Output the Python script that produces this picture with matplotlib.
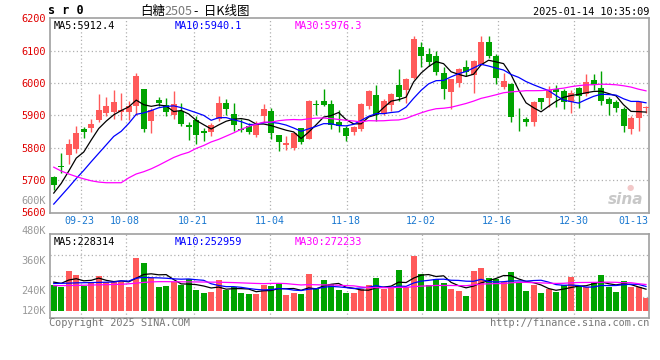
import numpy as np
import pandas as pd
import matplotlib
matplotlib.use('Agg')
import matplotlib.pyplot as plt

# sr0 (白糖2505) daily candles, 2024-09-13 .. 2025-01-14
opens = [5709, 5744, 5777, 5795, 5857, 5860, 5885, 5908, 5912, 5909,
         5912, 5930, 5982, 5882, 5948, 5932, 5902, 5915, 5871, 5887,
         5853, 5850, 5888, 5937, 5904, 5857, 5868, 5838, 5899, 5914,
         5838, 5809, 5800, 5861, 5828, 5934, 5945, 5934, 5880, 5860,
         5850, 5858, 5929, 5962, 5904, 5932, 5993, 5978, 6016, 6111,
         6091, 6084, 6031, 5972, 6001, 6049, 6026, 6057, 6128, 6082,
         5989, 5997, 5896, 5889, 5881, 5953, 5955, 5981, 5975, 5942,
         5984, 5966, 6009, 5986, 5950, 5942, 5919, 5858, 5891, 5924]
closes = [5686, 5740, 5813, 5845, 5850, 5872, 5917, 5928, 5942, 5916,
          5928, 6022, 5857, 5917, 5937, 5912, 5936, 5874, 5863, 5838,
          5845, 5870, 5937, 5920, 5869, 5855, 5849, 5873, 5921, 5845,
          5818, 5814, 5847, 5818, 5945, 5931, 5933, 5870, 5866, 5835,
          5865, 5934, 5975, 5901, 5945, 5965, 5957, 6014, 6136, 6082,
          6065, 6033, 5983, 6011, 6042, 6033, 6067, 6128, 6082, 6017,
          6006, 5896, 5894, 5881, 5942, 5942, 5980, 5973, 5942, 5970,
          5960, 6004, 5994, 5946, 5934, 5924, 5867, 5891, 5942, 5927]
highs = [5714, 5784, 5826, 5866, 5865, 5888, 5965, 5957, 5978, 5968,
         5946, 6030, 5983, 5922, 5957, 5955, 5974, 5937, 5881, 5897,
         5861, 5878, 5960, 5950, 5938, 5890, 5878, 5883, 5934, 5922,
         5840, 5836, 5850, 5862, 5948, 5947, 5983, 5948, 5916, 5868,
         5868, 5938, 5977, 5993, 5950, 5968, 6042, 6016, 6146, 6128,
         6108, 6098, 6050, 6014, 6047, 6072, 6072, 6146, 6146, 6090,
         6032, 5999, 5922, 5896, 5944, 5954, 5991, 5994, 5983, 5978,
         5989, 6028, 6028, 6038, 5958, 5947, 5925, 5898, 5945, 5929]
lows = [5668, 5722, 5750, 5785, 5830, 5850, 5880, 5897, 5890, 5886,
        5885, 5902, 5850, 5845, 5928, 5898, 5890, 5868, 5824, 5811,
        5822, 5835, 5884, 5902, 5853, 5848, 5843, 5833, 5881, 5828,
        5790, 5792, 5792, 5812, 5827, 5901, 5929, 5858, 5850, 5820,
        5840, 5853, 5921, 5884, 5901, 5914, 5945, 5938, 6011, 6050,
        6052, 6026, 5952, 5920, 5989, 6021, 5970, 6055, 6077, 5997,
        5981, 5881, 5853, 5867, 5867, 5919, 5927, 5927, 5920, 5906,
        5922, 5960, 5980, 5932, 5901, 5911, 5850, 5842, 5853, 5908]
# volume in thousand lots
volumes = [272, 248, 426, 374, 265, 297, 367, 307, 307, 300,
           248, 562, 503, 342, 248, 258, 300, 272, 332, 220,
           185, 195, 321, 220, 248, 185, 175, 178, 272, 258,
           290, 168, 189, 175, 388, 237, 321, 279, 220, 185,
           185, 227, 269, 342, 227, 237, 436, 251, 576, 384,
           269, 332, 290, 227, 209, 154, 426, 457, 342, 332,
           307, 415, 290, 206, 269, 185, 227, 195, 269, 353,
           258, 248, 300, 374, 251, 195, 311, 251, 251, 133]

# moving-average values at the left edge, where the window reaches
# back before the first candle shown
ma5_head = [5660, 5690, 5728, 5768]
ma10_head = [5626, 5652, 5678, 5705, 5730, 5757, 5783, 5809, 5835]
ma30_head = [5740, 5728, 5719, 5711, 5704, 5698, 5694, 5692, 5692, 5692,
             5707, 5719, 5726, 5735, 5746, 5758, 5770, 5779, 5786, 5798,
             5807, 5818, 5826, 5836, 5846, 5857, 5866, 5873, 5879]
vma5_head = [303, 290, 325, 339]
vma10_head = [288, 290, 292, 295, 297, 298, 300, 302, 304]
vma30_head = [265, 266, 267, 268, 270, 272, 274, 276, 278, 280,
              285, 292, 300, 305, 308, 308, 307, 306, 305, 305,
              304, 303, 302, 300, 298, 295, 292, 289, 287]

date_labels = ['09-23', '10-08', '10-21', '11-04', '11-18',
               '12-02', '12-16', '12-30', '01-13']
price_ticks = [5600, 5700, 5800, 5900, 6000, 6100, 6200]


def with_head(values, n, head):
    ma = pd.Series(values, dtype=float).rolling(n).mean().to_numpy()
    ma[:len(head)] = head
    return ma


RED = '#ff5a5a'
GREEN = '#00a300'
GRID = '#b0b0b0'
MONO = 'DejaVu Sans Mono'
CJK = ['Noto Sans CJK SC', 'DejaVu Sans']

W, H = 660, 360
fig = plt.figure(figsize=(6.6, 3.6), dpi=100)
fig.patch.set_facecolor('white')


def px(x, y):
    return x / W, 1 - y / H


ax = fig.add_axes([50 / W, 1 - 212.5 / H, 599 / W, 194.2 / H])
axv = fig.add_axes([50 / W, 1 - 318.3 / H, 599 / W, 84 / H])

o = np.array(opens)
c = np.array(closes)
hi = np.array(highs)
lo = np.array(lows)
v = np.array(volumes) * 1000
x = np.arange(len(o))
up = c >= o
cols = np.where(up, RED, GREEN)

# grid lines at the date positions (in candle units) and price levels
grid_x = [3.6, 9.6, 18.7, 28.9, 39.1, 49.1, 59.3, 69.4]
label_x = [3.45, 9.45, 18.6, 28.75, 38.9, 49.0, 59.15, 69.3, 77.3]
for a in (ax, axv):
    for gx in grid_x:
        a.axvline(gx, color=GRID, lw=0.9, ls=(0, (1, 2)), zorder=0)
for p in price_ticks[1:-1]:
    ax.axhline(p, color=GRID, lw=0.9, ls=(0, (1, 2)), zorder=0)

# candles
ax.vlines(x, lo, hi, colors=cols, lw=1, zorder=2)
body_h = np.maximum(np.abs(c - o), 1.5)
ax.bar(x, body_h, bottom=np.minimum(o, c), width=0.8, color=cols,
       linewidth=0, zorder=3)

ax.plot(x, with_head(closes, 5, ma5_head), color='black', lw=0.9, zorder=4)
ax.plot(x, with_head(closes, 10, ma10_head), color='#0000ff', lw=0.9, zorder=4)
ax.plot(x, with_head(closes, 30, ma30_head), color='#ff00ff', lw=0.9, zorder=4)

ax.set_xlim(-0.5, 79.4)
ax.set_ylim(5600, 6200)
ax.set_yticks(price_ticks)
ax.set_yticklabels([str(p) for p in price_ticks], color='#e00000',
                   family=MONO, fontsize=7.4)
ax.set_xticks(label_x)
ax.set_xticklabels(date_labels, color='#1a78d0', family=MONO, fontsize=7.2)
ax.tick_params(length=0, pad=2.5)
ax.tick_params(axis='y', pad=3)

# volume panel
vlo, vhi = -80600, 810000
axv.bar(x, v, width=0.8, color=cols, linewidth=0, zorder=2)
axv.plot(x, with_head(volumes, 5, vma5_head) * 1000, color='black', lw=0.9, zorder=3)
axv.plot(x, with_head(volumes, 10, vma10_head) * 1000, color='#0000ff', lw=0.9, zorder=3)
axv.plot(x, with_head(volumes, 30, vma30_head) * 1000, color='#ff00ff', lw=0.9, zorder=3)
for f in (0.25, 0.5, 0.75):
    axv.axhline(vlo + f * (vhi - vlo), color=GRID, lw=0.9, ls=(0, (1, 2)), zorder=0)
axv.set_xlim(-0.5, 79.4)
axv.set_ylim(vlo, vhi)
axv.set_xticks([])
axv.set_yticks([])

for a in (ax, axv):
    for s in a.spines.values():
        s.set_color('#a0a0a0')
        s.set_linewidth(1.2)

# MA legends inside the panels
for a, texts in ((ax, ('MA5:5912.4', 'MA10:5940.1', 'MA30:5976.3')),
                 (axv, ('MA5:228314', 'MA10:252959', 'MA30:272233'))):
    for t, xx, col in zip(texts, (4, 125, 245), ('black', '#0000ff', '#ff00ff')):
        a.annotate(t, (0, 1), xycoords='axes fraction', xytext=(xx * 0.72, -2),
                   textcoords='offset points', ha='left', va='top',
                   family=MONO, fontsize=7.4, color=col)

# volume scale labels (as placed on the original)
for lab, yy in (('600K', 201), ('480K', 231), ('360K', 260.7),
                ('240K', 290.7), ('120K', 310.7)):
    fig.text(*px(46, yy), lab, ha='right', va='center', family=MONO,
             fontsize=7.4, color='#999999')

# header
fig.text(*px(48, 11), 's r 0', ha='left', va='center', family=MONO,
         fontsize=8.5, fontweight='bold', color='black')
fig.text(*px(140, 11.5), '白糖', ha='left', va='center', family=CJK,
         fontsize=9, color='black')
fig.text(*px(164, 11.5), '2505', ha='left', va='center', family=CJK,
         fontsize=9, color='#777777')
fig.text(*px(194, 11.5), '-  日K线图', ha='left', va='center', family=CJK,
         fontsize=9, color='black')
fig.text(*px(649, 12), '2025-01-14 10:35:09', ha='right', va='center',
         family=MONO, fontsize=7.4, color='black')

# footer
fig.text(*px(49, 323.5), 'Copyright 2025 SINA.COM', ha='left', va='center',
         family=MONO, fontsize=7.4, color='#777777')
fig.text(*px(649, 323.5), 'http://finance.sina.com.cn', ha='right', va='center',
         family=MONO, fontsize=7.4, color='#777777')

# faint watermark
fig.text(*px(626, 199), 'sina', ha='center', va='center', fontsize=11,
         fontweight='bold', style='italic', color='#c8c8c8', family='DejaVu Sans')
fig.text(*px(630, 187), '●', ha='center', va='center', fontsize=6,
         color='#f2c8c8', family='DejaVu Sans')

fig.savefig('out.png', dpi=100)
